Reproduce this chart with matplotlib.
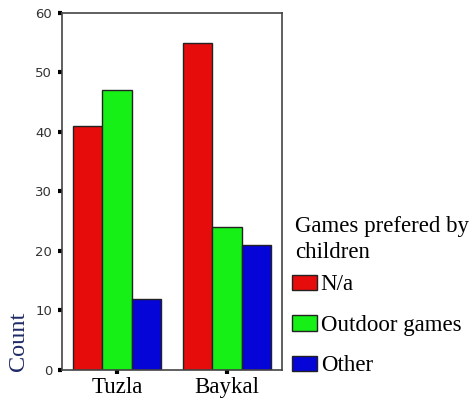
import numpy as np
import matplotlib
matplotlib.use('Agg')
import matplotlib.pyplot as plt

# data
towns = ['Tuzla', 'Baykal']
games = ['N/a', 'Outdoor games', 'Other']
na_counts = [41, 55]
outdoor_counts = [47, 24]
other_counts = [12, 21]
y_ticks = [0, 10, 20, 30, 40, 50, 60]

colors = ['#e60c0c', '#16f016', '#0505d8']
serif = ['Liberation Serif', 'DejaVu Serif']

fig = plt.figure(figsize=(4.71, 4.03), dpi=100)
ax = fig.add_axes([0.1316, 0.0819, 0.467, 0.886])

x = np.arange(len(towns))
w = 0.268
series = [na_counts, outdoor_counts, other_counts]
for i, (vals, name) in enumerate(zip(series, games)):
    ax.bar(x + (i - 1) * w, vals, width=w, color=colors[i], edgecolor='#222222',
           linewidth=1.0, label=name)

ax.set_xlim(-0.5, 1.5)
ax.set_ylim(0, 60)
ax.set_yticks(y_ticks)
ax.set_yticklabels([str(t) for t in y_ticks], fontsize=9.5, color='#333333',
                   family='DejaVu Sans')
ax.set_xticks(x)
ax.set_xticklabels(towns, fontsize=16.5, family=serif)
ax.tick_params(axis='both', direction='out', length=3, width=3, color='black', pad=4)
ax.tick_params(axis='x', pad=2)
for s in ax.spines.values():
    s.set_color('#444444')
    s.set_linewidth(1.2)

fig.text(0.039, 0.154, 'Count', rotation=90, ha='center', va='center',
         fontsize=17.5, family=serif, color='#1f2a66')

# legend title drawn as two lines of text
fig.text(295 / 471, 1 - 232 / 403, 'Games prefered by', ha='left', va='baseline',
         fontsize=16.5, family=serif)
fig.text(295 / 471, 1 - 258 / 403, 'children', ha='left', va='baseline',
         fontsize=16.5, family=serif)

leg = fig.legend(loc='upper left', bbox_to_anchor=(0.62, 0.319),
                 frameon=False, prop={'family': serif, 'size': 16.5},
                 handlelength=1.1, handleheight=0.65, handletextpad=0.15,
                 labelspacing=0.85, borderpad=0, borderaxespad=0)

fig.savefig('out.png', dpi=100)
